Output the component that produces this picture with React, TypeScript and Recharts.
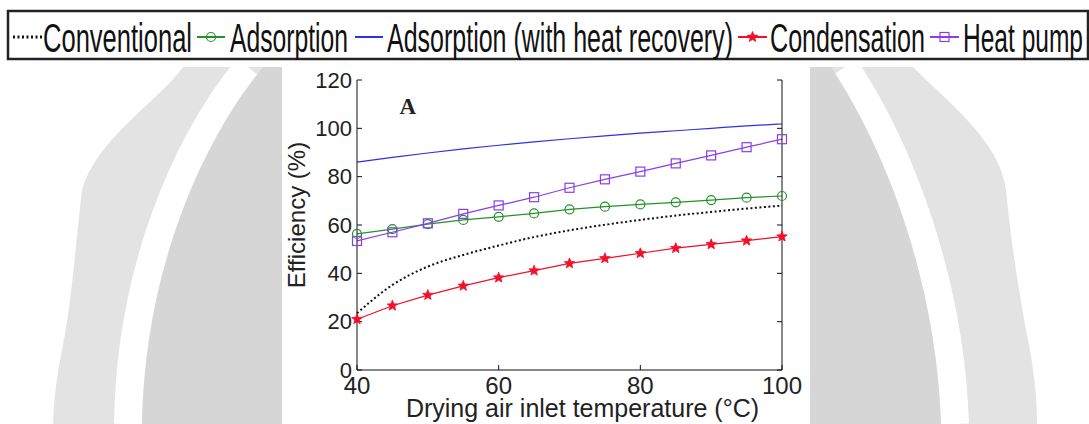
import { Line, LineChart, ReferenceDot, XAxis, YAxis } from "recharts";

const temps = [40, 45, 50, 55, 60, 65, 70, 75, 80, 85, 90, 95, 100];
const conventional = [23.5, 35.2, 42.8, 47.6, 51.5, 55.0, 57.8, 60.1, 62.1, 63.9, 65.4, 66.8, 68.0];
const adsorption = [56.3, 58.3, 60.4, 62.1, 63.4, 64.8, 66.5, 67.6, 68.5, 69.4, 70.3, 71.3, 72.0];
const adsorptionHeatRecovery = [86.0, 88.0, 89.8, 91.5, 93.0, 94.4, 95.7, 96.9, 98.0, 99.0, 100.0, 101.0, 101.8];
const condensation = [21.0, 26.6, 31.0, 34.8, 38.2, 41.1, 44.1, 46.2, 48.3, 50.4, 52.0, 53.5, 55.2];
const heatPump = [53.4, 57.0, 60.7, 64.6, 68.1, 71.5, 75.4, 78.9, 82.1, 85.5, 88.8, 92.2, 95.5];

const xTicks = [40, 60, 80, 100];
const yTicks = [0, 20, 40, 60, 80, 100, 120];

const rows = temps.map((t, i) => ({
  t,
  conventional: conventional[i],
  adsorption: adsorption[i],
  adsorptionHR: adsorptionHeatRecovery[i],
  condensation: condensation[i],
  heatPump: heatPump[i],
}));

type Marker = "none" | "circle" | "star" | "square";

const series: { key: string; name: string; color: string; dash?: string; width: number; marker: Marker; curve: "linear" | "monotone" }[] = [
  { key: "conventional", name: "Conventional", color: "#111111", dash: "2 2.5", width: 2, marker: "none", curve: "monotone" },
  { key: "adsorption", name: "Adsorption", color: "#23922a", width: 1.2, marker: "circle", curve: "linear" },
  { key: "adsorptionHR", name: "Adsorption (with heat recovery)", color: "#2f2fe8", width: 1.2, marker: "none", curve: "monotone" },
  { key: "condensation", name: "Condensation", color: "#f0102a", width: 1.2, marker: "star", curve: "linear" },
  { key: "heatPump", name: "Heat pump", color: "#8a3ee8", width: 1.2, marker: "square", curve: "linear" },
];

// legend slots: [sample start, sample end, text start, text end]
const legendSlots = [
  [13, 42, 43, 192],
  [197, 225, 230, 348],
  [355, 383, 387, 733],
  [738, 767, 770, 925],
  [930, 959, 963, 1083],
];

function starPoints(cx: number, cy: number, ro: number, ri: number) {
  const pts: string[] = [];
  for (let k = 0; k < 10; k++) {
    const r = k % 2 === 0 ? ro : ri;
    const a = -Math.PI / 2 + (k * Math.PI) / 5;
    pts.push(`${cx + r * Math.cos(a)},${cy + r * Math.sin(a)}`);
  }
  return pts.join(" ");
}

function drawMarker(kind: Marker, color: string, cx: number, cy: number, key: string) {
  if (kind === "circle") return <circle key={key} cx={cx} cy={cy} r={4.5} fill="none" stroke={color} strokeWidth={1.2} />;
  if (kind === "square") return <rect key={key} x={cx - 4.5} y={cy - 4.5} width={9} height={9} fill="none" stroke={color} strokeWidth={1.2} />;
  if (kind === "star") return <polygon key={key} points={starPoints(cx, cy, 5.5, 2.4)} fill={color} stroke={color} strokeWidth={0.8} />;
  return <g key={key} />;
}

const FONT = "'Liberation Sans', Arial, sans-serif";

function Backdrop() {
  return (
    <svg width={1089} height={424} style={{ position: "absolute", left: 0, top: 0 }}>
      <path d="M 183 67 C 160 100, 95 140, 82 190 C 75 250, 72 300, 62 350 C 56 380, 54 400, 53 424 L 282 424 L 282 67 Z" fill="#e3e3e3" />
      <path d="M 248 67 C 180 150, 130 280, 128 424" fill="none" stroke="#ffffff" strokeWidth={28} />
      <path d="M 263 67 C 195 150, 145 280, 142 424 L 282 424 L 282 67 Z" fill="#d6d6d6" />
      <path d="M 913 67 C 945 100, 1000 140, 1006 190 C 1012 250, 1020 300, 1030 350 C 1035 380, 1037 400, 1037 424 L 810 424 L 810 67 Z" fill="#e3e3e3" />
      <path d="M 845 67 C 900 150, 950 280, 955 424" fill="none" stroke="#ffffff" strokeWidth={28} />
      <path d="M 831 67 C 886 150, 936 280, 941 424 L 810 424 L 810 67 Z" fill="#d6d6d6" />
    </svg>
  );
}

function LegendBox() {
  return (
    <svg width={1089} height={70} style={{ position: "absolute", left: 0, top: 0 }}>
      <rect x={8} y={11} width={1080} height={48} fill="#ffffff" stroke="#222222" strokeWidth={2.5} />
      {series.map((s, i) => {
        const [s0, s1, t0, t1] = legendSlots[i];
        const mid = (s0 + s1) / 2;
        return (
          <g key={s.key}>
            <line x1={s0} x2={s1} y1={37} y2={37} stroke={s.color} strokeWidth={s.key === "conventional" ? 3 : 2} strokeDasharray={s.dash} />
            {drawMarker(s.marker, s.color, mid, 37, `lg-${s.key}`)}
            <text x={t0} y={52} fontSize={40} fontFamily={FONT} fill="#111111" textLength={t1 - t0} lengthAdjust="spacingAndGlyphs">
              {s.name}
            </text>
          </g>
        );
      })}
    </svg>
  );
}

export default function App() {
  return (
    <div style={{ position: "absolute", left: 0, top: 0, width: 1089, height: 424, background: "#ffffff", overflow: "hidden" }}>
      <Backdrop />
      <LineChart
        width={1089}
        height={424}
        data={rows}
        margin={{ top: 80, right: 279, bottom: 0, left: 282 }}
        style={{ position: "absolute", left: 0, top: 0 }}
      >
        <XAxis
          dataKey="t"
          type="number"
          domain={[40, 100]}
          ticks={xTicks}
          height={54}
          stroke="#111111"
          tickSize={-5}
          tickMargin={12}
          tick={{ fontSize: 24, fill: "#222222", fontFamily: FONT }}
          label={{
            content: ({ viewBox }: any) => (
              <text x={viewBox.x + viewBox.width / 2 + 13} y={417} textAnchor="middle" fontSize={25} fontFamily={FONT} fill="#222222">
                Drying air inlet temperature (°C)
              </text>
            ),
          }}
        />
        <XAxis xAxisId="top" orientation="top" type="number" domain={[40, 100]} ticks={xTicks} height={0} stroke="#111111" tickSize={-5} tick={() => <g />} allowDataOverflow />
        <YAxis
          type="number"
          domain={[0, 120]}
          ticks={yTicks}
          width={75}
          stroke="#111111"
          tickSize={-5}
          tickMargin={10}
          tick={{ fontSize: 22, fill: "#222222", fontFamily: FONT }}
          label={{
            content: () => (
              <text x={305} y={215} transform="rotate(-90 305 215)" textAnchor="middle" fontSize={24} fontFamily={FONT} fill="#222222">
                Efficiency (%)
              </text>
            ),
          }}
        />
        <YAxis yAxisId="right" orientation="right" type="number" domain={[0, 120]} ticks={yTicks} width={28} stroke="#111111" tickSize={-5} tick={() => <g />} allowDataOverflow />
        {series.map((s) => (
          <Line
            key={s.key}
            dataKey={s.key}
            name={s.name}
            type={s.curve}
            stroke={s.color}
            strokeWidth={s.width}
            strokeDasharray={s.dash}
            dot={(p: any) => drawMarker(s.marker, s.color, p.cx, p.cy, `${s.key}-${p.index}`)}
            activeDot={false}
            isAnimationActive={false}
          />
        ))}
        <ReferenceDot
          x={46}
          y={106}
          r={0}
          shape={(p: any) => (
            <text x={p.cx} y={p.cy} fontSize={23} fontWeight="bold" fontFamily="'Liberation Serif', 'Times New Roman', serif" fill="#222222">
              A
            </text>
          )}
        />
      </LineChart>
      <LegendBox />
    </div>
  );
}
